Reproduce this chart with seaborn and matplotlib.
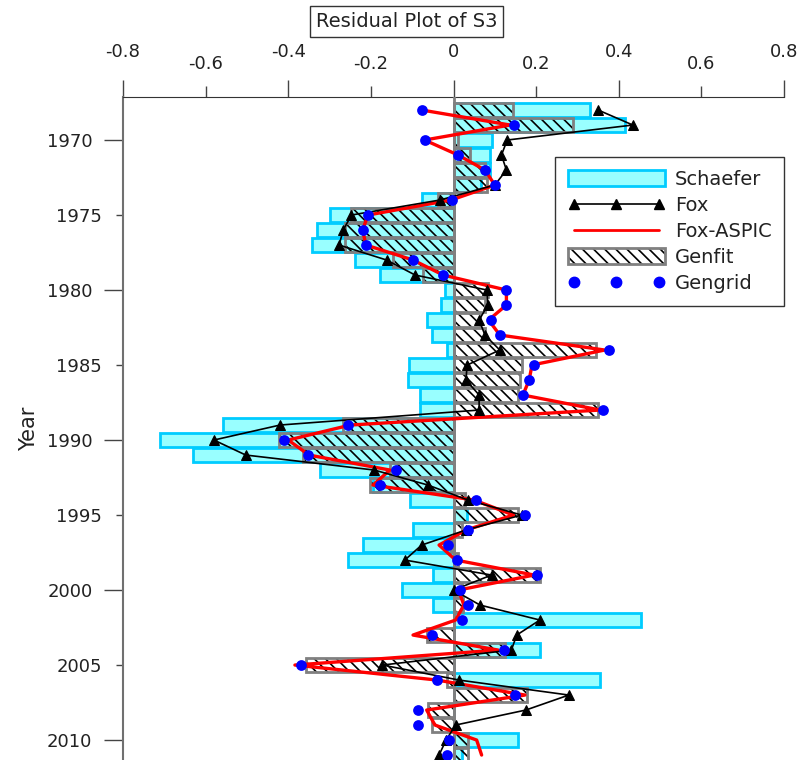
import matplotlib
matplotlib.use("Agg")
import matplotlib.pyplot as plt
import matplotlib.patches as mpatches
import matplotlib.lines as mlines
import pandas as pd
import seaborn as sns

# residuals per year
years = list(range(1968, 2012))

schaefer = [0.33, 0.415, 0.094, 0.088, 0.088, 0.066, -0.077, -0.30, -0.331, -0.343,
            -0.238, -0.178, -0.021, -0.03, -0.065, -0.053, -0.017, -0.108, -0.111, -0.081,
            -0.081, -0.558, -0.71, -0.63, -0.323, -0.195, -0.105, 0.032, -0.097, -0.22,
            -0.255, -0.05, -0.125, -0.05, 0.455, 0.0, 0.209, 0.0, 0.354, 0.0,
            0.0, 0.0, 0.157, 0.02]

fox = [0.35, 0.434, 0.13, 0.116, 0.128, 0.10, -0.033, -0.247, -0.267, -0.277,
       -0.162, -0.093, 0.081, 0.083, 0.062, 0.076, 0.112, 0.033, 0.030, 0.062,
       0.062, -0.42, -0.58, -0.503, -0.192, -0.062, 0.035, 0.165, 0.03, -0.077,
       -0.118, 0.092, 0.0, 0.064, 0.209, 0.153, 0.14, -0.172, 0.013, 0.279,
       0.175, 0.005, -0.018, -0.035]

fox_aspic = [-0.077, 0.137, -0.07, 0.011, 0.076, 0.10, -0.006, -0.207, -0.22, -0.212,
             -0.098, -0.025, 0.128, 0.128, 0.085, 0.112, 0.366, 0.19, 0.183, 0.168,
             0.355, -0.25, -0.40, -0.35, -0.154, -0.195, 0.05, 0.145, 0.03, -0.035,
             0.005, 0.195, 0.012, 0.025, 0.005, -0.098, 0.108, -0.384, -0.04, 0.173,
             -0.065, -0.045, 0.056, 0.068]

genfit = [0.144, 0.289, 0.01, 0.04, 0.075, 0.08, -0.037, -0.247, -0.263, -0.263,
          -0.146, -0.074, 0.083, 0.076, 0.064, 0.075, 0.345, 0.165, 0.161, 0.156,
          0.35, -0.267, -0.422, -0.364, -0.154, -0.202, 0.028, 0.155, 0.02, -0.005,
          0.01, 0.21, 0.02, 0.022, 0.0, -0.065, 0.124, -0.357, -0.017, 0.177,
          -0.062, -0.052, 0.035, 0.035]

gengrid = [-0.077, 0.146, -0.07, 0.011, 0.076, 0.10, -0.004, -0.207, -0.22, -0.212,
           -0.098, -0.025, 0.128, 0.128, 0.09, 0.112, 0.376, 0.195, 0.183, 0.168,
           0.362, -0.255, -0.41, -0.352, -0.139, -0.178, 0.054, 0.174, 0.035, -0.013,
           0.008, 0.203, 0.015, 0.034, 0.02, -0.053, 0.122, -0.37, -0.039, 0.149,
           -0.087, -0.086, -0.011, -0.017]

x_major = [-0.8, -0.4, 0, 0.4, 0.8]
x_minor = [-0.6, -0.2, 0.2, 0.6]
y_major = [1970, 1980, 1990, 2000, 2010]
y_minor = [1975, 1985, 1995, 2005]

df = pd.DataFrame({"Year": years, "Schaefer": schaefer, "Fox": fox,
                   "Fox-ASPIC": fox_aspic, "Genfit": genfit, "Gengrid": gengrid})

CYAN_FACE = "#99FFFF"
CYAN_EDGE = "#00CCFF"
GREY = "#808080"
TXT = "#222222"
HATCH = "\\\\\\"

sns.set_style("white")
plt.rcParams["font.family"] = ["DejaVu Sans"]
plt.rcParams["axes.unicode_minus"] = False
plt.rcParams["hatch.linewidth"] = 1.2

fig = plt.figure(figsize=(8.01, 7.6), dpi=100)
ax = fig.add_axes([0.1536, 0.0, 0.8252, 0.8724])

# bars
sns.barplot(data=df, x="Schaefer", y="Year", orient="y", native_scale=True, width=0.88,
            color=CYAN_FACE, edgecolor=CYAN_EDGE, linewidth=2, saturation=1,
            errorbar=None, ax=ax, zorder=1)
sns.barplot(data=df, x="Genfit", y="Year", orient="y", native_scale=True, width=0.88,
            color="black", fill=False, hatch=HATCH, linewidth=0, saturation=1,
            errorbar=None, ax=ax, zorder=2)
sns.barplot(data=df, x="Genfit", y="Year", orient="y", native_scale=True, width=0.88,
            color=GREY, fill=False, linewidth=2, saturation=1,
            errorbar=None, ax=ax, zorder=3)
ax.axvline(0, color=GREY, lw=2, zorder=3)

# lines and points
sns.lineplot(data=df, x="Fox-ASPIC", y="Year", orient="y", color="red", lw=2.4,
             ax=ax, zorder=4)
sns.lineplot(data=df, x="Fox", y="Year", orient="y", color="black", lw=1.2,
             marker="^", markersize=7, markeredgecolor="black", ax=ax, zorder=5)
sns.scatterplot(data=df, x="Gengrid", y="Year", color="blue", s=60, linewidth=0,
                ax=ax, zorder=6)

ax.set_xlim(-0.8, 0.8)
ax.set_ylim(2011.33, 1967.13)

ax.xaxis.tick_top()
ax.set_xticks(x_major)
ax.set_xticks(x_minor, minor=True)
ax.set_xticklabels(["-0.8", "-0.4", "0", "0.4", "0.8"])
ax.set_xticklabels(["-0.6", "-0.2", "0.2", "0.6"], minor=True)
ax.set_yticks(y_major)
ax.set_yticks(y_minor, minor=True)
ax.set_yticklabels([str(y) for y in y_major])
ax.set_yticklabels([str(y) for y in y_minor], minor=True)

ax.tick_params(axis="x", which="major", top=True, bottom=False, labeltop=True,
               labelbottom=False, length=12, width=1, pad=14, labelsize=13,
               colors="#444444", labelcolor=TXT)
ax.tick_params(axis="x", which="minor", top=True, bottom=False, labeltop=True,
               labelbottom=False, length=8, width=1, pad=9, labelsize=13,
               colors="#444444", labelcolor=TXT)
ax.tick_params(axis="y", which="major", left=True, length=14, width=1, pad=8,
               labelsize=13, colors="#444444", labelcolor=TXT)
ax.tick_params(axis="y", which="minor", left=True, length=5, width=1, pad=10,
               labelsize=13, colors="#444444", labelcolor=TXT)

ax.set_xlabel("")
ax.set_ylabel("Year", fontsize=15, color=TXT, labelpad=6)

for side in ["right", "bottom"]:
    ax.spines[side].set_visible(False)
ax.spines["top"].set_color("#333333")
ax.spines["left"].set_color("#707070")
ax.spines["left"].set_linewidth(1.5)

fig.text(0.508, 0.972, "Residual Plot of S3", ha="center", va="center", fontsize=14,
         color=TXT, bbox=dict(boxstyle="square,pad=0.3", fc="white", ec="#333333", lw=1))

# legend
h_schaefer = mpatches.Patch(facecolor=CYAN_FACE, edgecolor=CYAN_EDGE, lw=2)
h_fox = mlines.Line2D([], [], color="black", lw=1.2, marker="^", markersize=7)
h_aspic = mlines.Line2D([], [], color="red", lw=2)
h_genfit = (mpatches.Patch(facecolor="none", edgecolor="black", hatch=HATCH, lw=0),
            mpatches.Patch(facecolor="none", edgecolor=GREY, lw=2))
h_gengrid = mlines.Line2D([], [], color="blue", ls="none", marker="o", markersize=7.5)
leg = fig.legend([h_schaefer, h_fox, h_aspic, h_genfit, h_gengrid],
                 ["Schaefer", "Fox", "Fox-ASPIC", "Genfit", "Gengrid"],
                 loc="upper left", bbox_to_anchor=(0.693, 0.793), borderaxespad=0,
                 fontsize=14, handlelength=5.0, handleheight=0.9, numpoints=3,
                 labelspacing=0.36, frameon=True, fancybox=False, framealpha=1,
                 edgecolor="#333333", borderpad=0.65, handletextpad=0.5)
for t in leg.get_texts():
    t.set_color(TXT)

fig.savefig("out.png", dpi=100)
